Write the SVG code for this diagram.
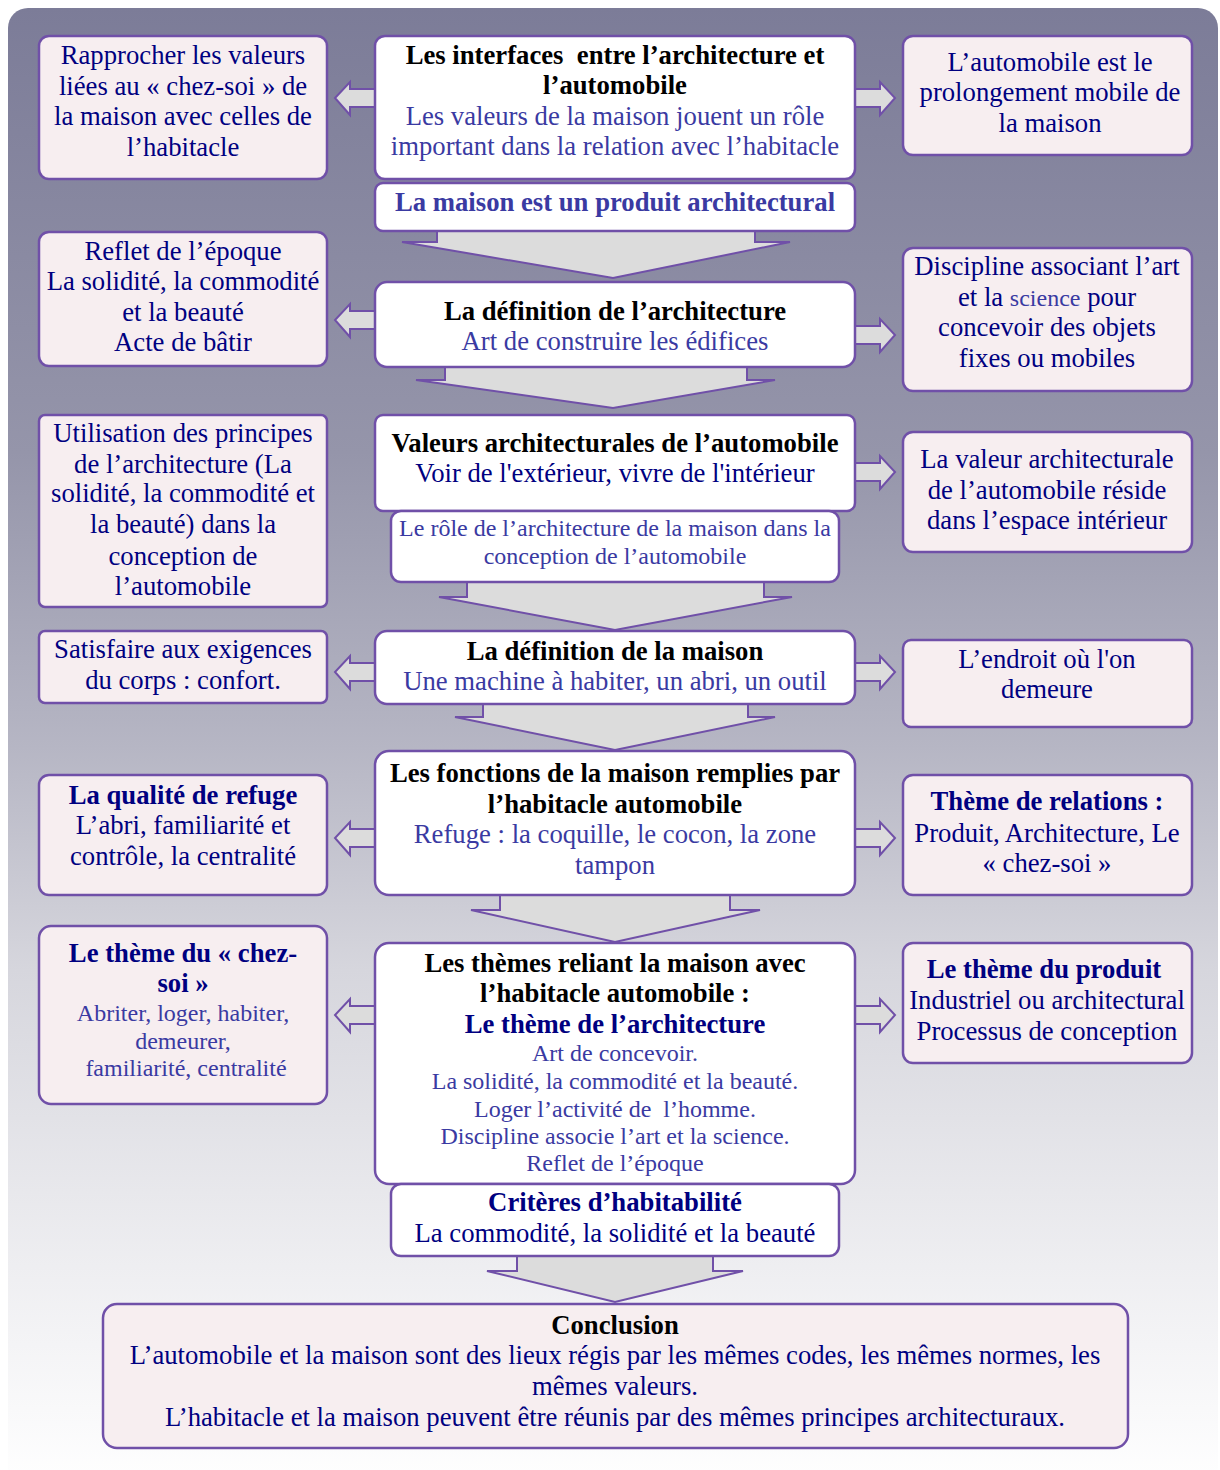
<svg xmlns="http://www.w3.org/2000/svg" width="1220" height="1470" viewBox="0 0 1220 1470" font-family="'Liberation Serif', 'DejaVu Serif', serif">
<defs>
<linearGradient id="bg" x1="0" y1="0" x2="0" y2="1">
<stop offset="0" stop-color="#7c7c98"/>
<stop offset="0.3" stop-color="#9595aa"/>
<stop offset="0.5" stop-color="#b6b6c4"/>
<stop offset="0.65" stop-color="#d6d6dd"/>
<stop offset="0.85" stop-color="#eeeef1"/>
<stop offset="1" stop-color="#ffffff"/>
</linearGradient>
<style>
.side{fill:#f7eef0;stroke:#7050a8;stroke-width:2.5}
.ctr{fill:#ffffff;stroke:#7050a8;stroke-width:2.5}
.arr{fill:#dcdcdc;stroke:#7050a8;stroke-width:2;stroke-linejoin:miter}
text{font-family:'Liberation Serif','DejaVu Serif',serif;font-size:26.7px;text-anchor:middle}
.nv{fill:#000080}
.bl{fill:#3a3aa2}
.bk{fill:#000000;font-weight:bold}
.b{font-weight:bold}
.sm{font-size:24px}
</style>
</defs>
<rect x="8" y="8" width="1210" height="1480" rx="20" fill="url(#bg)"/>
<g id="connectors">
<polygon class="arr" points="437,229 437,242 402,242 613,278 790,242 755,242 755,229"/>
<polygon class="arr" points="445,365 445,380 416,380 613,408 775,380 747,380 747,365"/>
<polygon class="arr" points="467,580 467,597 439,597 615,630 792,597 764,597 764,580"/>
<polygon class="arr" points="483,702 483,717 455,717 615,750 775,717 748,717 748,702"/>
<polygon class="arr" points="500,893 500,910 471,910 615,942 760,910 730,910 730,893"/>
<polygon class="arr" points="517,1254 517,1271 487,1271 615,1302 743,1271 713,1271 713,1254"/>
<polygon class="arr" points="377,89 350,89 350,82 335,98 350,115 350,107 377,107"/>
<polygon class="arr" points="853,89 880,89 880,82 895,98 880,115 880,107 853,107"/>
<polygon class="arr" points="377,311 350,311 350,304 335,320 350,337 350,329 377,329"/>
<polygon class="arr" points="853,326 880,326 880,319 895,335 880,352 880,344 853,344"/>
<polygon class="arr" points="853,463 880,463 880,456 895,472 880,489 880,481 853,481"/>
<polygon class="arr" points="377,663 350,663 350,656 335,672 350,689 350,681 377,681"/>
<polygon class="arr" points="853,663 880,663 880,656 895,672 880,689 880,681 853,681"/>
<polygon class="arr" points="377,829 350,829 350,822 335,838 350,855 350,847 377,847"/>
<polygon class="arr" points="853,829 880,829 880,822 895,838 880,855 880,847 853,847"/>
<polygon class="arr" points="377,1006 350,1006 350,999 335,1015 350,1032 350,1024 377,1024"/>
<polygon class="arr" points="853,1006 880,1006 880,999 895,1015 880,1032 880,1024 853,1024"/>
</g>
<g id="L1"><rect class="side" x="39" y="36" width="288" height="143" rx="10"/>
<text class="nv" x="183" y="64">Rapprocher les valeurs</text>
<text class="nv" x="183" y="95">liées au « chez-soi » de</text>
<text class="nv" x="183" y="125">la maison avec celles de</text>
<text class="nv" x="183" y="156">l’habitacle</text></g>
<g id="C1"><rect class="ctr" x="375" y="36" width="480" height="143" rx="10"/>
<text class="bk" x="615" y="64" xml:space="preserve">Les interfaces  entre l’architecture et</text>
<text class="bk" x="615" y="94">l’automobile</text>
<text class="bl" x="615" y="125">Les valeurs de la maison jouent un rôle</text>
<text class="bl" x="615" y="155">important dans la relation avec l’habitacle</text></g>
<g id="R1"><rect class="side" x="903" y="36" width="289" height="119" rx="10"/>
<text class="nv" x="1050" y="71">L’automobile est le</text>
<text class="nv" x="1050" y="101">prolongement mobile de</text>
<text class="nv" x="1050" y="132">la maison</text></g>
<g id="C1b"><rect class="ctr" x="375" y="183" width="480" height="48" rx="8"/>
<text class="bl b" x="615" y="211">La maison est un produit architectural</text></g>
<g id="L2"><rect class="side" x="39" y="232" width="288" height="134" rx="10"/>
<text class="nv" x="183" y="260">Reflet de l’époque</text>
<text class="nv" x="183" y="290">La solidité, la commodité</text>
<text class="nv" x="183" y="321">et la beauté</text>
<text class="nv" x="183" y="351">Acte de bâtir</text></g>
<g id="C2"><rect class="ctr" x="375" y="282" width="480" height="85" rx="12"/>
<text class="bk" x="615" y="320">La définition de l’architecture</text>
<text class="bl" x="615" y="350">Art de construire les édifices</text></g>
<g id="R2"><rect class="side" x="903" y="248" width="289" height="143" rx="10"/>
<text class="nv" x="1047" y="275">Discipline associant l’art</text>
<text class="nv" x="1047" y="306">et la <tspan class="bl sm">science</tspan> pour</text>
<text class="nv" x="1047" y="336">concevoir des objets</text>
<text class="nv" x="1047" y="367">fixes ou mobiles</text></g>
<g id="L3"><rect class="side" x="39" y="415" width="288" height="192" rx="6"/>
<text class="nv" x="183" y="442">Utilisation des principes</text>
<text class="nv" x="183" y="473">de l’architecture (La</text>
<text class="nv" x="183" y="502">solidité, la commodité et</text>
<text class="nv" x="183" y="533">la beauté) dans la</text>
<text class="nv" x="183" y="565">conception de</text>
<text class="nv" x="183" y="595">l’automobile</text></g>
<g id="C3"><rect class="ctr" x="375" y="415" width="480" height="96" rx="8"/>
<text class="bk" x="615" y="452">Valeurs architecturales de l’automobile</text>
<text class="nv" x="615" y="482">Voir de l'extérieur, vivre de l'intérieur</text></g>
<g id="C3b"><rect class="ctr" x="391" y="511" width="448" height="71" rx="10"/>
<text class="bl sm" x="615" y="536">Le rôle de l’architecture de la maison dans la</text>
<text class="bl sm" x="615" y="564">conception de l’automobile</text></g>
<g id="R3"><rect class="side" x="903" y="432" width="289" height="120" rx="10"/>
<text class="nv" x="1047" y="468">La valeur architecturale</text>
<text class="nv" x="1047" y="499">de l’automobile réside</text>
<text class="nv" x="1047" y="529">dans l’espace intérieur</text></g>
<g id="L4"><rect class="side" x="39" y="631" width="288" height="72" rx="6"/>
<text class="nv" x="183" y="658">Satisfaire aux exigences</text>
<text class="nv" x="183" y="689">du corps : confort.</text></g>
<g id="C4"><rect class="ctr" x="375" y="631" width="480" height="73" rx="12"/>
<text class="bk" x="615" y="660">La définition de la maison</text>
<text class="bl" x="615" y="690">Une machine à habiter, un abri, un outil</text></g>
<g id="R4"><rect class="side" x="903" y="640" width="289" height="87" rx="8"/>
<text class="nv" x="1047" y="668">L’endroit où l'on</text>
<text class="nv" x="1047" y="698">demeure</text></g>
<g id="L5"><rect class="side" x="39" y="775" width="288" height="120" rx="10"/>
<text class="nv b" x="183" y="804">La qualité de refuge</text>
<text class="nv" x="183" y="834">L’abri, familiarité et</text>
<text class="nv" x="183" y="865">contrôle, la centralité</text></g>
<g id="C5"><rect class="ctr" x="375" y="751" width="480" height="144" rx="14"/>
<text class="bk" x="615" y="782">Les fonctions de la maison remplies par</text>
<text class="bk" x="615" y="813">l’habitacle automobile</text>
<text class="bl" x="615" y="843">Refuge : la coquille, le cocon, la zone</text>
<text class="bl" x="615" y="874">tampon</text></g>
<g id="R5"><rect class="side" x="903" y="775" width="289" height="120" rx="10"/>
<text class="nv b" x="1047" y="810">Thème de relations :</text>
<text class="nv" x="1047" y="842">Produit, Architecture, Le</text>
<text class="nv" x="1047" y="872">« chez-soi »</text></g>
<g id="L6"><rect class="side" x="39" y="926" width="288" height="178" rx="12"/>
<text class="nv b" x="183" y="962">Le thème du « chez-</text>
<text class="nv b" x="183" y="992">soi »</text>
<text class="bl sm" x="183" y="1021">Abriter, loger, habiter,</text>
<text class="bl sm" x="183" y="1049">demeurer,</text>
<text class="bl sm" x="186" y="1076">familiarité, centralité</text></g>
<g id="C6"><rect class="ctr" x="375" y="943" width="480" height="241" rx="14"/>
<text class="bk" x="615" y="972">Les thèmes reliant la maison avec</text>
<text class="bk" x="615" y="1002">l’habitacle automobile :</text>
<text class="nv b" x="615" y="1033">Le thème de l’architecture</text>
<text class="bl sm" x="615" y="1061">Art de concevoir.</text>
<text class="bl sm" x="615" y="1089">La solidité, la commodité et la beauté.</text>
<text class="bl sm" x="615" y="1117" xml:space="preserve">Loger l’activité de  l’homme.</text>
<text class="bl sm" x="615" y="1144">Discipline associe l’art et la science.</text>
<text class="bl sm" x="615" y="1171">Reflet de l’époque</text></g>
<g id="C6b"><rect class="ctr" x="391" y="1184" width="448" height="72" rx="10"/>
<text class="nv b" x="615" y="1211">Critères d’habitabilité</text>
<text class="nv" x="615" y="1242">La commodité, la solidité et la beauté</text></g>
<g id="R6"><rect class="side" x="903" y="943" width="289" height="120" rx="10"/>
<text class="nv b" x="1044" y="978">Le thème du produit</text>
<text class="nv" x="1047" y="1009">Industriel ou architectural</text>
<text class="nv" x="1047" y="1040">Processus de conception</text></g>
<g id="Conclusion"><rect class="side" x="103" y="1304" width="1025" height="144" rx="14"/>
<text class="bk" x="615" y="1334">Conclusion</text>
<text class="nv" x="615" y="1364">L’automobile et la maison sont des lieux régis par les mêmes codes, les mêmes normes, les</text>
<text class="nv" x="615" y="1395">mêmes valeurs.</text>
<text class="nv" x="615" y="1426">L’habitacle et la maison peuvent être réunis par des mêmes principes architecturaux.</text></g>
</svg>
